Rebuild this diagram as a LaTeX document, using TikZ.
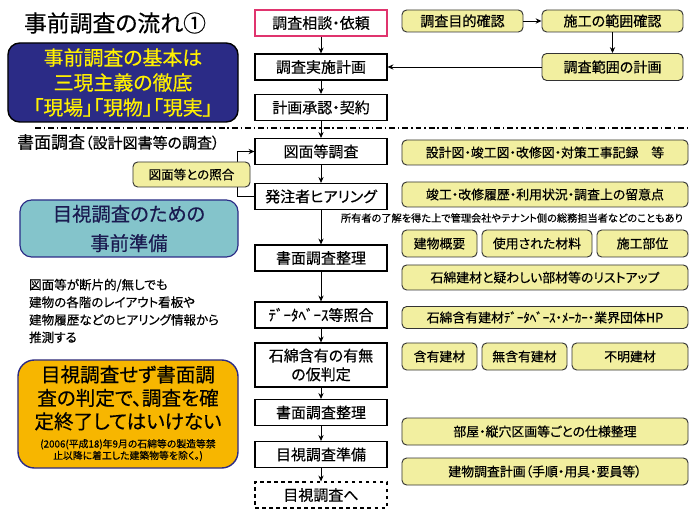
\documentclass[tikz,border=0pt]{standalone}
\usepackage{fontspec}
\setmainfont{Noto Sans CJK JP}[RawFeature=+palt,FakeBold=0.4]
\usetikzlibrary{arrows.meta}
\definecolor{kimemo}{HTML}{F2EFA0}
\definecolor{waku}{HTML}{333333}
\definecolor{irai}{HTML}{E0346E}
\definecolor{kon}{HTML}{2B2B86}
\definecolor{kiiro}{HTML}{FFF000}
\definecolor{ao}{HTML}{84C4CB}
\definecolor{daidai}{HTML}{F7B600}
\begin{document}
\begin{tikzpicture}[x=0.03cm,y=-0.03cm,>={Stealth[length=5pt,width=4.5pt]},
                flowbox/.style={draw,line width=1pt,fill=white,minimum width=3.96cm,minimum height=0.78cm,inner sep=0pt,font=\fontsize{12.8}{16}\selectfont},
                memobox/.style={draw=waku,line width=0.8pt,fill=kimemo,rounded corners=4pt,minimum height=0.75cm,inner sep=0pt,font=\fontsize{11}{13}\selectfont},
                widememo/.style={memobox,minimum width=8.58cm},
                topmemo/.style={memobox,minimum height=0.66cm,font=\fontsize{12}{14}\selectfont},
                conn/.style={->,line width=0.8pt}]
                \fill[white] (0,0) rectangle (700,514);
                \useasboundingbox (0,0) rectangle (700,514);

                \node(title) at (115,23) {\fontsize{19.5}{23}\selectfont 事前調査の流れ①};

                \node[flowbox,draw=irai](soudan) at (321,23) {調査相談・依頼};
                \node[flowbox](jisshi) at (321,67) {調査実施計画};
                \node[flowbox](shonin) at (321,107.5) {計画承認・契約};
                \node[flowbox](zumen) at (321,151.5) {図面等調査};
                \node[flowbox](hearing) at (321,196.5) {発注者ヒアリング};
                \node[flowbox](seiri) at (321,258) {書面調査整理};
                \node[flowbox](db) at (321,315) {ﾃﾞｰﾀﾍﾞｰｽ等照合};
                \node[flowbox,minimum height=1.32cm,align=center](hantei) at (321,365) {石綿含有の有無\\の仮判定};
                \node[flowbox](seiri2) at (321,412.5) {書面調査整理};
                \node[flowbox](junbi) at (321,454.5) {目視調査準備};
                \node[flowbox,dashed](mokushi) at (321,495) {目視調査へ};

                \node[topmemo,minimum width=3.63cm](mokuteki) at (462.5,21) {調査目的確認};
                \node[topmemo,minimum width=4.23cm](hani) at (612.5,21) {施工の範囲確認};
                \node[topmemo,minimum width=4.23cm,minimum height=0.81cm](haniplan) at (612.5,67) {調査範囲の計画};

                \node[widememo](sekkei) at (545,152.5) {設計図・竣工図・改修図・対策工事記録　等};
                \node[widememo](rireki) at (545,194.5) {竣工・改修履歴・利用状況・調査上の留意点};
                \node(shoyu) at (512,218) {\fontsize{8.7}{10}\selectfont 所有者の了解を得た上で管理会社やテナント側の総務担当者などのこともあり};
                \node[memobox,minimum width=2.25cm,minimum height=0.81cm](gaiyo) at (439.5,243.5) {建物概要};
                \node[memobox,minimum width=3.3cm,minimum height=0.81cm](zairyo) at (537,243.5) {使用された材料};
                \node[memobox,minimum width=2.73cm,minimum height=0.81cm](bui) at (642.5,243.5) {施工部位};
                \node[widememo](listup) at (545,277.5) {石綿建材と疑わしい部材等のリストアップ};
                \node[widememo,minimum height=0.66cm](dbhp) at (545,317.5) {石綿含有建材ﾃﾞｰﾀﾍﾞｰｽ・ﾒｰｶｰ・業界団体HP};
                \node[memobox,minimum width=2.25cm,minimum height=0.81cm](ganyu) at (439.5,356.5) {含有建材};
                \node[memobox,minimum width=2.55cm,minimum height=0.81cm](muganyu) at (524.5,356.5) {無含有建材};
                \node[memobox,minimum width=3.48cm,minimum height=0.81cm](fumei) at (630,356.5) {不明建材};
                \node[widememo,minimum height=0.81cm](shiyo) at (545,431.5) {部屋・縦穴区画等ごとの仕様整理};
                \node[widememo,minimum height=0.81cm](keikaku) at (545,471.5) {建物調査計画（手順・用具・要員等）};

                \node[draw=black,line width=1.2pt,fill=kon,text=kiiro,rounded corners=10pt,minimum width=6.9cm,minimum height=2.37cm,align=center,font=\fontsize{17}{21.3}\selectfont](kihon) at (123,82.5) {事前調査の基本は\\三現主義の徹底\\「現場」「現物」「現実」};

                \draw[line width=1.2pt,dash pattern=on 5pt off 2.5pt on 1.2pt off 2.5pt] (35,128) -- (690,128);

                \node[anchor=west](shomen) at (13,142) {\fontsize{14.5}{17}\selectfont 書面調査\fontsize{12.8}{15}\selectfont（設計図書等の調査）};

                \draw[conn](soudan) -- (jisshi);
                \draw[conn](jisshi) -- (shonin);
                \draw[conn](shonin) -- (zumen);
                \draw[conn](zumen) -- (hearing);
                \draw[conn](hearing) -- (seiri);
                \draw[conn](seiri) -- (db);
                \draw[conn](db) -- (hantei);
                \draw[conn](hantei) -- (seiri2);
                \draw[conn](seiri2) -- (junbi);
                \draw[conn](junbi) -- (mokushi);
                \draw[conn](mokuteki) -- (hani);
                \draw[conn](hani) -- (haniplan);
                \draw[conn](haniplan) -- (jisshi);
                \draw[conn](hearing.west) -- ++(-17,0) |- (zumen.west);

                \node[memobox,minimum width=3.51cm,font=\fontsize{10.7}{13}\selectfont](shogo) at (191.5,174.5) {図面等との照合};

                \node[draw=kon,line width=1pt,fill=ao,text=kon!60!black,rounded corners=10pt,minimum width=6.54cm,minimum height=1.71cm,align=center,font=\fontsize{16.5}{25}\selectfont](jizen) at (129,228.5) {目視調査のための\\事前準備};

                \node[anchor=west,align=left,font=\fontsize{10.7}{15}\selectfont](suisoku) at (25,311) {図面等が断片的/無しでも\\建物の各階のレイアウト看板や\\建物履歴などのヒアリング情報から\\推測する};

                \node[draw=kon,line width=1.2pt,fill=daidai,rounded corners=14pt,minimum width=6.6cm,minimum height=3.24cm,align=center,font=\fontsize{16.7}{20}\selectfont](kinshi) at (128,414) {目視調査せず書面調\\査の判定で、調査を確\\定終了してはいけない\\[-4pt]{\fontsize{8.4}{9.6}\selectfont\begin{tabular}[t]{@{}c@{}}(2006(平成18)年9月の石綿等の製造等禁\\止以降に着工した建築物等を除く。)\end{tabular}}};
			\end{tikzpicture}
\end{document}
